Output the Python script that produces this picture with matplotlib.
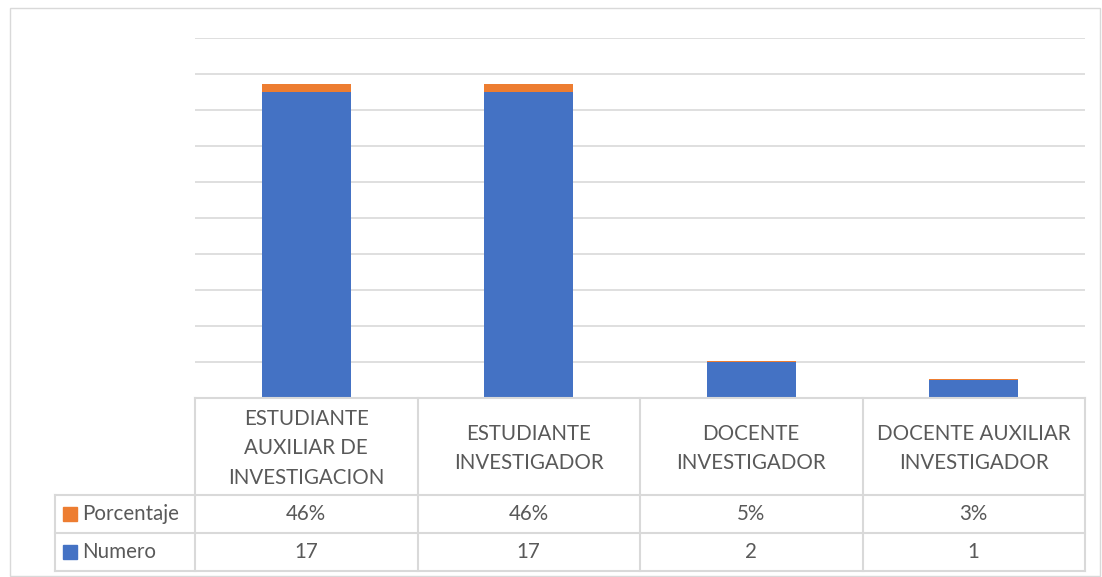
import matplotlib.pyplot as plt
import numpy as np
from matplotlib.lines import Line2D
from matplotlib.patches import Rectangle

categories = ['ESTUDIANTE\nAUXILIAR DE\nINVESTIGACION', 'ESTUDIANTE\nINVESTIGADOR',
              'DOCENTE\nINVESTIGADOR', 'DOCENTE AUXILIAR\nINVESTIGADOR']
numero = [17, 17, 2, 1]
porcentaje = [0.46, 0.46, 0.05, 0.03]
porcentaje_labels = ['46%', '46%', '5%', '3%']

BLUE = '#4472c4'
ORANGE = '#ed7d31'
GRID = '#d9d9d9'
TXT = '#595959'

plt.rcParams['font.family'] = ['Lato', 'DejaVu Sans']

W, H = 1102, 577
fig = plt.figure(figsize=(W / 100, H / 100), dpi=100)


def fx(px):
	return px / W


def fy(py):
	return 1 - py / H


# outer chart border
fig.add_artist(Rectangle((fx(10), fy(576)), fx(1100) - fx(10), fy(8) - fy(576),
                         transform=fig.transFigure, fill=False, edgecolor=GRID, lw=1))

x0, x1 = 195, 1085
ytop, ybot = 38, 398
ax = fig.add_axes([fx(x0), fy(ybot), fx(x1) - fx(x0), fy(ytop) - fy(ybot)])
x = np.arange(len(categories))
ax.bar(x, numero, width=0.4, color=BLUE, zorder=3)
ax.bar(x, porcentaje, width=0.4, bottom=numero, color=ORANGE, zorder=3)
ax.set_xlim(-0.5, len(categories) - 0.5)
ax.set_ylim(0, 20)
for g in range(2, 21, 2):
	ax.axhline(g, color=GRID, lw=1.2, zorder=1)
ax.set_xticks([])
ax.set_yticks([])
for s in ax.spines.values():
	s.set_visible(False)

# data table
col_w = (x1 - x0) / len(categories)
r0, r1, r2, r3 = 398, 495, 533, 571
left = 55

def hline(y, xa, xb):
	fig.add_artist(Line2D([fx(xa), fx(xb)], [fy(y), fy(y)], color=GRID, lw=1.5))

def vline(xp, ya, yb):
	fig.add_artist(Line2D([fx(xp), fx(xp)], [fy(ya), fy(yb)], color=GRID, lw=1.5))

hline(r0, x0, x1)
hline(r1, left, x1)
hline(r2, left, x1)
hline(r3, left, x1)
for i in range(len(categories) + 1):
	vline(x0 + i * col_w, r0, r3)
vline(left, r1, r3)

fs = 14.8
for i, cat in enumerate(categories):
	cx = x0 + (i + 0.5) * col_w
	fig.text(fx(cx), fy((r0 + r1) / 2 + 2), cat, ha='center', va='center',
	         fontsize=fs, color=TXT, linespacing=1.58)
	fig.text(fx(cx), fy((r1 + r2) / 2), porcentaje_labels[i], ha='center', va='center',
	         fontsize=fs, color=TXT)
	fig.text(fx(cx), fy((r2 + r3) / 2), str(numero[i]), ha='center', va='center',
	         fontsize=fs, color=TXT)

for (ya, yb), name, col in [((r1, r2), 'Porcentaje', ORANGE), ((r2, r3), 'Numero', BLUE)]:
	cy = (ya + yb) / 2
	fig.add_artist(Rectangle((fx(63), fy(cy + 7)), fx(77) - fx(63), fy(cy - 7) - fy(cy + 7),
	                         transform=fig.transFigure, color=col))
	fig.text(fx(82), fy(cy), name, ha='left', va='center', fontsize=fs, color=TXT)

fig.savefig('out.png', dpi=100)
